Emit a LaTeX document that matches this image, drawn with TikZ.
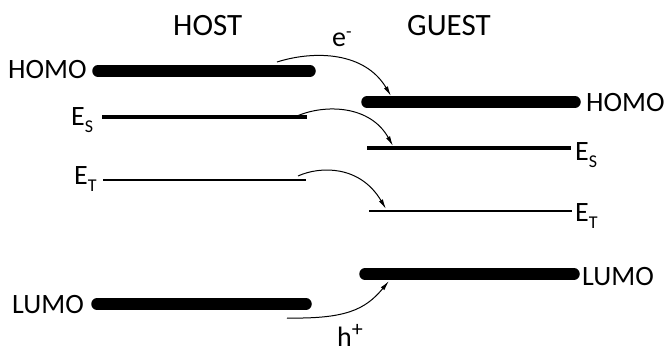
\documentclass[tikz,border=0pt]{standalone}
\usepackage{fontspec}
\setmainfont{Carlito}
\usetikzlibrary{arrows.meta}
\tikzset{
  thick level/.style={line width=11.5pt, line cap=round},
  mid level/.style={line width=4.5pt},
  thin level/.style={line width=1.5pt},
  transfer/.style={line width=1pt, -{Latex[length=10pt,width=4.5pt]}},
  lbl/.style={inner sep=0pt, anchor=base west, font=\fontsize{28}{28}\selectfont},
  head/.style={inner sep=0pt, anchor=base west, font=\fontsize{31}{31}\selectfont}
}
\newcommand{\sbs}[1]{\raisebox{-7pt}{\fontsize{18}{18}\selectfont #1}}
\begin{document}
\begin{tikzpicture}[x=1pt,y=-1pt]
\useasboundingbox (0,0) rectangle (670,353);
% level end points
\coordinate (hHa) at (98,71);   \coordinate (hHb) at (310,71);
\coordinate (hSa) at (102,117); \coordinate (hSb) at (307,117);
\coordinate (hTa) at (103,180); \coordinate (hTb) at (306,180);
\coordinate (hLa) at (97,304);  \coordinate (hLb) at (306,304);
\coordinate (gHa) at (367,102); \coordinate (gHb) at (575,102);
\coordinate (gSa) at (367,148); \coordinate (gSb) at (571,148);
\coordinate (gTa) at (369,211); \coordinate (gTb) at (572,211);
\coordinate (gLa) at (365,274); \coordinate (gLb) at (574,274);
\draw[thick level] (hHa) -- (hHb);
\draw[mid level] (hSa) -- (hSb);
\draw[thin level] (hTa) -- (hTb);
\draw[thick level] (hLa) -- (hLb);
\draw[thick level] (gHa) -- (gHb);
\draw[mid level] (gSa) -- (gSb);
\draw[thin level] (gTa) -- (gTb);
\draw[thick level] (gLa) -- (gLb);
% labels
\node[head] (host) at (173,36) {HOST};
\node[head] (guest) at (407,36) {GUEST};
\node[lbl] (lH) at (8,79) {HOMO};
\node[lbl] (lS) at (71,125) {E\sbs{S}};
\node[lbl] (lT) at (74,184) {E\sbs{T}};
\node[lbl] (lL) at (12,313) {LUMO};
\node[lbl] (rH) at (586,112) {HOMO};
\node[lbl] (rS) at (575,160) {E\sbs{S}};
\node[lbl] (rT) at (575,221) {E\sbs{T}};
\node[lbl] (rL) at (582,285) {LUMO};
\node[lbl] (el) at (332,47) {e\raisebox{9pt}{\fontsize{18}{18}\selectfont -}};
\node[lbl, text depth=0pt] (ho) at (337,346) {h\raisebox{10pt}{\fontsize{22}{22}\selectfont +}};
% transfer arrows
\coordinate (a1s) at (277,62);  \coordinate (a1e) at (391,96);
\coordinate (a2s) at (297,116); \coordinate (a2e) at (393,146);
\coordinate (a3s) at (298,176); \coordinate (a3e) at (386,209);
\coordinate (a4s) at (287,318); \coordinate (a4e) at (389,281);
\draw[transfer] (a1s) .. controls (315,50) and (365,52) .. (a1e);
\draw[transfer] (a2s) .. controls (325,104) and (370,105) .. (a2e);
\draw[transfer] (a3s) .. controls (320,166) and (360,165) .. (a3e);
\draw[transfer] (a4s) .. controls (345,319) and (365,310) .. (a4e);
\end{tikzpicture}
\end{document}
